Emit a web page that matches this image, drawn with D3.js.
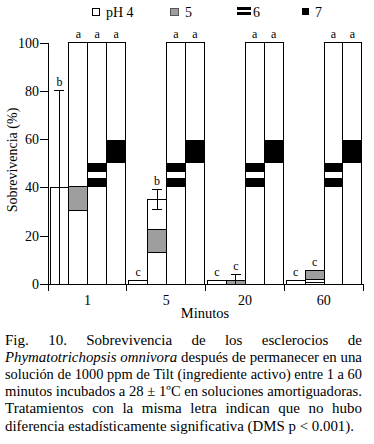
<!DOCTYPE html>
<html>
<head>
<meta charset="utf-8">
<script src="https://cdn.jsdelivr.net/npm/d3@7/dist/d3.min.js"></script>
<style>
  body { margin: 0; background: #fff; }
  svg { display: block; }
  text { font-family: "Liberation Serif", "Times New Roman", serif; fill: #000; }
</style>
</head>
<body>
<svg id="chart" width="374" height="444"></svg>
<script>
// Survival (%) of sclerotia by exposure time (minutes) and pH
const groups = ["1", "5", "20", "60"]
const series = ["pH 4", "5", "6", "7"]
const ph4 = [40, 1.3, 1.3, 1.3]
const ph5 = [100, 35, 1.4, 0.8]
const ph6 = [100, 100, 100, 100]
const ph7 = [100, 100, 100, 100]
const ph4Err = [40, 0, 0, 0]
const ph5Err = [0, 4, 2.4, 0]
const ph4Letters = ["b", "c", "c", "c"]
const ph5Letters = ["a", "b", "c", "c"]
const ph6Letters = ["a", "a", "a", "a"]
const ph7Letters = ["a", "a", "a", "a"]
// shaded pieces inside the bars, [from, to] in %
const ph5Shade = [[30.6, 40.3], [13.1, 22.6], [0, 1.4], [1.7, 5.5]]
const ph6Stripes = [[40.3, 44.1], [46.4, 50]]
const ph7Block = [50, 59.6]
const yTicks = [0, 20, 40, 60, 80, 100]

const captionLines = [
  [["Fig. 10. Sobrevivencia de los esclerocios de", false]],
  [["Phymatotrichopsis omnivora", true], ["después de permanecer en una", false]],
  [["solución de 1000 ppm de Tilt (ingrediente activo) entre 1 a 60", false]],
  [["minutos incubados a 28 ± 1ºC en soluciones amortiguadoras.", false]],
  [["Tratamientos con la misma letra indican que no hubo", false]],
  [["diferencia estadísticamente significativa (DMS p < 0.001).", false]]
]

const GRAY = "#9e9e9e"
const svg = d3.select("#chart")

const x = d3.scaleBand().domain(groups).range([48, 363]).paddingInner(0)
const xs = d3.scaleBand().domain(series).range([2, 77.5])
const y = d3.scaleLinear().domain([0, 100]).range([284, 42.7])

const values = [ph4, ph5, ph6, ph7]
const errs = [ph4Err, ph5Err, null, null]
const letters = [ph4Letters, ph5Letters, ph6Letters, ph7Letters]

const rows = []
groups.forEach((g, gi) => {
  series.forEach((s, si) => {
    const v = values[si][gi]
    const e = errs[si] ? errs[si][gi] : 0
    let top = v + e
    if (si === 1) top = Math.max(top, ph5Shade[gi][1])
    rows.push({ g, s, si, gi, v, e, top, letter: letters[si][gi] })
  })
})

const bx = d => x(d.g) + xs(d.s)

// Bars
const barG = svg.append("g").attr("shape-rendering", "crispEdges")
barG.selectAll("rect.bar")
  .data(rows)
  .join("rect")
  .attr("class", "bar")
  .attr("x", bx)
  .attr("width", xs.bandwidth())
  .attr("y", d => y(d.v))
  .attr("height", d => y(0) - y(d.v))
  .attr("fill", "#fff")
  .attr("stroke", "#000")
  .attr("stroke-width", 1)

// Gray pieces (pH 5)
barG.selectAll("rect.shade5")
  .data(rows.filter(d => d.si === 1))
  .join("rect")
  .attr("class", "shade5")
  .attr("x", bx)
  .attr("width", xs.bandwidth())
  .attr("y", d => y(ph5Shade[d.gi][1]))
  .attr("height", d => y(ph5Shade[d.gi][0]) - y(ph5Shade[d.gi][1]))
  .attr("fill", GRAY)
  .attr("stroke", "#000")

// Stripes (pH 6)
rows.filter(d => d.si === 2).forEach(d => {
  ph6Stripes.forEach(([lo, hi]) => {
    barG.append("rect")
      .attr("x", bx(d))
      .attr("width", xs.bandwidth())
      .attr("y", y(hi))
      .attr("height", y(lo) - y(hi))
      .attr("fill", "#000")
  })
})

// Black block (pH 7)
barG.selectAll("rect.block7")
  .data(rows.filter(d => d.si === 3))
  .join("rect")
  .attr("class", "block7")
  .attr("x", bx)
  .attr("width", xs.bandwidth())
  .attr("y", y(ph7Block[1]))
  .attr("height", y(ph7Block[0]) - y(ph7Block[1]))
  .attr("fill", "#000")

// Error bars
const errG = svg.append("g").attr("stroke", "#000").attr("shape-rendering", "crispEdges")
rows.filter(d => d.e > 0).forEach(d => {
  const cx = bx(d) + xs.bandwidth() / 2
  const lo = Math.max(0, d.v - d.e)
  errG.append("line").attr("x1", cx).attr("x2", cx).attr("y1", y(lo)).attr("y2", y(d.v + d.e))
  errG.append("line").attr("x1", cx - 5).attr("x2", cx + 5).attr("y1", y(d.v + d.e)).attr("y2", y(d.v + d.e))
  if (d.v - d.e >= 0) {
    errG.append("line").attr("x1", cx - 5).attr("x2", cx + 5).attr("y1", y(lo)).attr("y2", y(lo))
  }
})

// Letters
svg.append("g").selectAll("text")
  .data(rows)
  .join("text")
  .attr("x", d => bx(d) + xs.bandwidth() / 2)
  .attr("y", d => y(d.top) - 4.5)
  .attr("text-anchor", "middle")
  .attr("font-size", "12px")
  .text(d => d.letter)

// Y axis
const yAxis = svg.append("g")
  .attr("transform", "translate(48,0)")
  .call(d3.axisLeft(y).tickValues(yTicks).tickSize(8).tickSizeOuter(0).tickPadding(1))
yAxis.selectAll("text").attr("font-size", "14px").attr("font-family", "Liberation Serif").attr("fill", "#000")
yAxis.selectAll("line, path").attr("stroke", "#000").attr("shape-rendering", "crispEdges")

// X axis: labels at centres, ticks at group boundaries
const xAxis = svg.append("g")
  .attr("transform", `translate(0,${y(0)})`)
  .call(d3.axisBottom(x).tickSize(0).tickPadding(11))
xAxis.select(".domain").remove()
xAxis.selectAll("text").attr("font-size", "14px").attr("font-family", "Liberation Serif").attr("fill", "#000")
const bounds = groups.map(g => x(g)).concat([x.range()[1]])
const xl = svg.append("g").attr("stroke", "#000").attr("shape-rendering", "crispEdges")
xl.append("line").attr("x1", bounds[0]).attr("x2", bounds[bounds.length - 1]).attr("y1", y(0)).attr("y2", y(0))
bounds.forEach(b => {
  xl.append("line").attr("x1", b).attr("x2", b).attr("y1", y(0)).attr("y2", y(0) + 7)
})

svg.append("text")
  .attr("x", 205).attr("y", 318)
  .attr("text-anchor", "middle")
  .attr("font-size", "14.5px")
  .text("Minutos")

svg.append("text")
  .attr("transform", "translate(17,160) rotate(-90)")
  .attr("text-anchor", "middle")
  .attr("font-size", "14px")
  .text("Sobrevivencia (%)")

// Legend
const lg = svg.append("g").attr("shape-rendering", "crispEdges")
lg.append("rect").attr("x", 92.5).attr("y", 8.5).attr("width", 7).attr("height", 6.5).attr("fill", "#fff").attr("stroke", "#000")
lg.append("rect").attr("x", 170.5).attr("y", 8.5).attr("width", 7.5).attr("height", 6.5).attr("fill", GRAY).attr("stroke", "#555")
lg.append("rect").attr("x", 236.7).attr("y", 7).attr("width", 14).attr("height", 3).attr("fill", "#000")
lg.append("rect").attr("x", 236.7).attr("y", 11.7).attr("width", 14).attr("height", 3.3).attr("fill", "#000")
lg.append("rect").attr("x", 301.7).attr("y", 8.3).attr("width", 7).attr("height", 7).attr("fill", "#000")
const legendTextX = [106, 185, 253, 315]
series.forEach((s, i) => {
  svg.append("text").attr("x", legendTextX[i]).attr("y", 16.5).attr("font-size", "14px").text(s)
})

// Caption, justified
const capLeft = 5, capRight = 362
const capBase = [345, 362, 379, 396, 413, 430.5]
captionLines.forEach((segs, li) => {
  const g = svg.append("g")
  const words = []
  segs.forEach(([txt, it]) => {
    txt.split(" ").forEach(w => {
      const t = g.append("text").attr("font-size", "15px").attr("y", 0).text(w)
      if (it) t.attr("font-style", "italic")
      words.push({ t, w: t.node().getComputedTextLength() })
    })
  })
  const sum = d3.sum(words, d => d.w)
  const space = 3.75
  const last = li === captionLines.length - 1
  const target = last ? 349 : capRight - capLeft
  const natural = sum + space * (words.length - 1)
  let gap = space, scale = 1
  if (natural > target) scale = target / natural
  else if (!last) gap = (target - sum) / (words.length - 1)
  let cx = 0
  words.forEach(d => { d.t.attr("x", cx); cx += d.w + gap })
  g.attr("transform", `translate(${capLeft},${capBase[li]}) scale(${scale},1)`)
})
</script>
</body>
</html>
